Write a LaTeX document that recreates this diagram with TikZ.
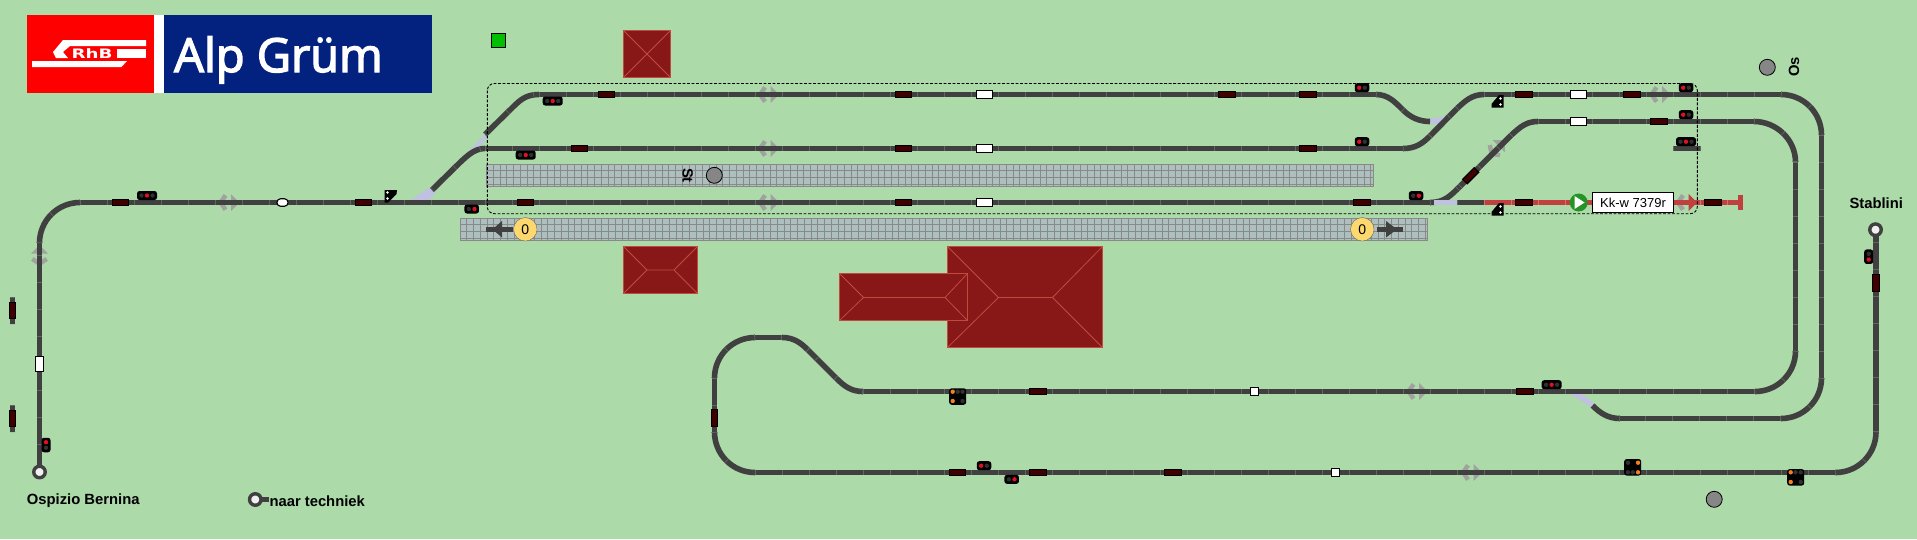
\documentclass[tikz,border=0pt]{standalone}
\usepackage{fontspec}
\setmainfont{Liberation Sans}
\newfontfamily\titlefont[FakeBold=3]{Open Sans}
\newfontfamily\logofont{DejaVu Sans}
\definecolor{meadow}{HTML}{ACDAA8}
\definecolor{rail}{HTML}{404040}
\definecolor{railtick}{HTML}{646464}
\definecolor{rout}{HTML}{C04040}
\definecolor{routtick}{HTML}{D87070}
\definecolor{switchc}{HTML}{C0C0E0}
\definecolor{blockc}{HTML}{400000}
\definecolor{roofc}{HTML}{881818}
\definecolor{roofl}{HTML}{C04A40}
\definecolor{chevc}{HTML}{A0A2A0}
\definecolor{tilec}{HTML}{AEBFBF}
\definecolor{tilel}{HTML}{888A88}
\definecolor{lampoff}{HTML}{303030}
\definecolor{lampred}{HTML}{E01020}
\definecolor{lampor}{HTML}{F08020}
\definecolor{navy}{HTML}{03217E}
\usetikzlibrary{arrows}
\tikzset{
  track/.style={draw=rail,line width=5.6pt,postaction={draw=railtick,line width=5.6pt,dash pattern=on .7pt off 26.3pt}},
  bend track/.style={draw=rail,line width=5.6pt,postaction={draw=railtick,line width=5.6pt,dash pattern=on .7pt off 31pt}},
  red track/.style={draw=rout,line width=5.6pt,postaction={draw=routtick,line width=5.6pt,dash pattern=on .7pt off 26.3pt}},
  block/.style={draw=black,fill=blockc,line width=1.1pt,inner sep=0pt,minimum width=16.5pt,minimum height=6.5pt},
  vblock/.style={block,minimum width=6.5pt,minimum height=16.5pt},
  clear/.style={draw=black,fill=white,line width=1.1pt,inner sep=0pt,minimum width=15.5pt,minimum height=7.5pt},
  sig/.style={fill=black,rounded corners=2.5pt,inner sep=0pt},
  sign/.style={font=\bfseries\fontsize{14.8}{16}\selectfont,inner sep=0pt},
  ends/.style={circle,draw=rail,fill=white!94!black,line width=3.4pt,inner sep=0pt,minimum size=11.5pt},
  dial/.style={circle,draw=black,fill=gray!95,line width=.8pt,inner sep=0pt,minimum size=16pt},
  count/.style={circle,draw=black!60,fill=yellow!50!orange!55,line width=.4pt,inner sep=0pt,minimum size=23.5pt,font=\fontsize{14}{14}\selectfont}
}
\newcommand{\chev}[4][chevc]{\begin{scope}[shift={(#2,#3)},rotate=#4]
  \draw[chevc,line width=4.4pt] (-3,-7.2) -- (-7.8,0) -- (-3,7.2);
  \fill[#1] (2.5,-8.5) -- (11,0) -- (2.5,8.5) -- cycle;
\end{scope}}
\newcommand{\platform}[4]{\fill[tilec] (#1,#2) rectangle (#3,#4);
  \pgfmathsetmacro{\nx}{int((#3-#1)/6.75)}\pgfmathsetmacro{\ny}{int((#4-#2)/6.75)}
  \foreach \i in {0,...,\nx} \draw[tilel,line width=.8pt] (#1+\i*6.75,#2) -- (#1+\i*6.75,#4);
  \foreach \i in {0,...,\ny} \draw[tilel,line width=.8pt] (#1,#2+\i*6.75) -- (#3,#2+\i*6.75);
  \draw[tilel,line width=1pt] (#1,#2) rectangle (#3,#4);}
\newcommand{\roof}[7]{\filldraw[fill=roofc,draw=roofl,line width=1pt] (#1,#2) rectangle (#3,#4);
  \draw[roofl,line width=.8pt] (#1,#2) -- (#5,#7) -- (#1,#4) (#3,#2) -- (#6,#7) -- (#3,#4) (#5,#7) -- (#6,#7);}
\newcommand{\lamp}[3]{\fill[#3] (#1,#2) circle (2.2);}
\begin{document}
\begin{tikzpicture}[x=1pt,y=-1pt,>=stealth']
  \fill[meadow] (0,0) rectangle (1917,539);
  % logo
  \fill[red] (27,15) rectangle (154,93);
  \fill[white] (154,15) rectangle (164,93);
  \fill[navy] (164,15) rectangle (432,93);
  \fill[white] (63,40) -- (146,40) -- (146,46) -- (70,46) -- (63,52) -- (68,58) -- (56,58) -- (53,52) -- cycle;
  \fill[white] (117,49) rectangle (146,58);
  \fill[white] (32,61) -- (127,61) -- (121.5,67) -- (32,67) -- cycle;
  \node[text=white,font=\logofont\bfseries\fontsize{13}{13}\selectfont,xscale=1.4,inner sep=0pt] (rhb) at (92,53.5) {RhB};
  \node[text=white,font=\titlefont\fontsize{47}{50}\selectfont,anchor=base west,inner sep=0pt] (title) at (174,72) {Alp Grüm};
  % buildings
  \roof{623.5}{30.5}{670.5}{77.5}{647}{647}{54}
  \roof{623.5}{246.5}{697.5}{293.5}{647}{674}{270}
  \roof{947.5}{246.5}{1102.5}{347.5}{998.5}{1052.5}{297.5}
  \roof{839.5}{273.5}{967.5}{320.5}{863.5}{945}{297.5}
  % platforms
  \platform{486.5}{164}{1373.5}{186.5}
  \platform{460}{218}{1427.5}{240.5}
  % direction marks
  \chev{228.5}{202.5}{0}
  \chev{39.5}{256}{90}
  \chev{768}{94.5}{0}
  \chev{768}{148.5}{0}
  \chev{768}{202.5}{0}
  \chev{1659.5}{94.5}{0}
  \chev{1497}{148}{45}
  \chev[rout]{1686}{202.5}{0}
  \chev{1416.5}{391.5}{0}
  \chev{1471}{472.5}{0}
  % switches
  \fill[switchc] (429,187.5) -- (435.5,192.5) -- (429,200) -- (411,200) -- cycle;
  \fill[switchc] (485,134.5) -- (487.5,137.5) -- (480,146) -- (467,153) -- cycle;
  \fill[switchc] (1430,119) -- (1446,116) -- (1453,109) -- (1456,113) -- (1443,124) -- (1430,124) -- cycle;
  \fill[switchc] (1570,394) -- (1582,394) -- (1595,404) -- (1591.5,407) -- cycle;
  % tracks
  \draw[track] (39.5,472) -- (39.5,243);
  \draw[bend track] (39.5,243) .. controls (39.5,220.6) and (57.6,202.5) .. (80,202.5);
  \draw[track] (80,202.5) -- (1430,202.5);
  \draw[bend track] (1430,202.5) .. controls (1445,202.5) and (1451,195) .. (1460,186.4);
  \draw[track] (1460,186.4) -- (1511,135.4);
  \draw[bend track] (1511,135.4) .. controls (1521,126) and (1527,121.5) .. (1538,121.5);
  \draw[track] (1538,121.5) -- (1754,121.5);
  \draw[bend track] (1754,121.5) .. controls (1776.4,121.5) and (1795.5,139.6) .. (1795.5,162);
  \draw[track] (1795.5,162) -- (1795.5,351);
  \draw[bend track] (1795.5,351) .. controls (1795.5,373.4) and (1777.4,391.5) .. (1755,391.5);
  \draw[track] (1755,391.5) -- (863,391.5);
  \draw[bend track] (863,391.5) .. controls (851,391.5) and (844,386) .. (836,378);
  \draw[track] (836,378) -- (808,350);
  \draw[bend track] (808,350) .. controls (800,342) and (793,337.5) .. (782,337.5);
  \draw[track] (782,337.5) -- (755,337.5);
  \draw[bend track] (755,337.5) .. controls (732.6,337.5) and (714.5,355.6) .. (714.5,378);
  \draw[track] (714.5,378) -- (714.5,432);
  \draw[bend track] (714.5,432) .. controls (714.5,454.4) and (732.6,472.5) .. (755,472.5);
  \draw[track] (755,472.5) -- (1835.5,472.5);
  \draw[bend track] (1835.5,472.5) .. controls (1857.9,472.5) and (1876,454.4) .. (1876,432);
  \draw[track] (1876,432) -- (1876,230);
  \draw[bend track] (432,190) -- (460,162.5) .. controls (468,155) and (475,148.5) .. (485,148.5);
  \draw[track] (485,148.5) -- (1403,148.5);
  \draw[bend track] (1403,148.5) .. controls (1415,148.5) and (1422,144) .. (1430,136);
  \draw[track] (1430,136) -- (1457,108.5);
  \draw[bend track] (1457,108.5) .. controls (1465,101) and (1472,94.5) .. (1484,94.5);
  \draw[track] (1484,94.5) -- (1781,94.5);
  \draw[bend track] (1781,94.5) .. controls (1803.4,94.5) and (1821.5,112.6) .. (1821.5,135);
  \draw[track] (1821.5,135) -- (1821.5,378);
  \draw[bend track] (1821.5,378) .. controls (1821.5,400.4) and (1803.4,418.5) .. (1781,418.5);
  \draw[track] (1781,418.5) -- (1620,418.5);
  \draw[bend track] (1620,418.5) .. controls (1608,418.5) and (1600,413) .. (1592.5,405.5);
  \draw[bend track] (485,134.5) -- (513,107) .. controls (521,99) and (527,94.5) .. (539,94.5);
  \draw[track] (539,94.5) -- (1376,94.5);
  \draw[bend track] (1376,94.5) .. controls (1388,94.5) and (1395,102) .. (1403,110) .. controls (1411,118) and (1420,121.5) .. (1430,121.5);
  \draw[switchc,line width=5.6pt] (1434,202.5) -- (1457,202.5);
  \draw[track] (1457,202.5) -- (1484,202.5);
  \draw[red track] (1484,202.5) -- (1740,202.5);
  \draw[rout,line width=5.6pt] (1740.5,195) -- (1740.5,210);
  \foreach \n/\y in {a/297,b/405} \draw[track] (12.5,\y) -- (12.5,\y+27);
  \draw[track] (1673,148.5) -- (1700.5,148.5);
  \draw[rail,line width=5.6pt] (255,499.5) -- (269,499.5);
  % blocks
  \foreach \n/\x/\y in {1/120.5/202.5,2/363.5/202.5,3/606.5/94.5,4/903.5/94.5,5/579.5/148.5,6/903.5/148.5,7/525.5/202.5,8/903.5/202.5,9/1227/94.5,10/1308/94.5,11/1308/148.5,12/1362/202.5,13/1524/94.5,14/1632/94.5,15/1659/121.5,16/1524/202.5,17/1713/202.5,18/1038/391.5,19/957.5/472.5,20/1038/472.5,21/1173/472.5,22/1525/391.5}
    \node[block] (b\n) at (\x,\y) {};
  \foreach \n/\x/\y in {1/12.5/310.5,2/12.5/418.5,3/714.5/418,4/1876/283}
    \node[vblock] (v\n) at (\x,\y) {};
  \node[block,rotate=45] (d1) at (1470.7,175.7) {};
  % clear marks
  \foreach \n/\x/\y in {1/984.5/94.5,2/984.5/148.5,3/984.5/202.5,4/1578.5/94.5,5/1578.5/121.5}
    \node[clear] (c\n) at (\x,\y) {};
  \node[clear,minimum width=7.5pt,minimum height=15.5pt] (c6) at (39.5,364) {};
  \node[clear,minimum width=7.5pt,minimum height=8pt] (c7) at (1254.5,391.5) {};
  \node[clear,minimum width=7.5pt,minimum height=8pt] (c8) at (1335.5,472.5) {};
  \node[clear,minimum width=11pt,rounded corners=3.5pt] (c9) at (282.5,202.5) {};
  % signals
  \foreach \n/\x/\y in {1/147/195.5,2/552.7/101,3/525.7/155,4/1686/141.7,5/1551.6/384.7}{
    \node[sig,minimum width=20pt,minimum height=9pt] (s\n) at (\x,\y) {};
    \lamp{\x-5.5}{\y}{lampoff}\lamp{\x}{\y}{lampred}\lamp{\x+5.5}{\y}{lampoff}}
  \foreach \n/\x/\y in {1/471.7/209,2/1416/195.7}{
    \node[sig,minimum width=14.5pt,minimum height=9pt] (t\n) at (\x,\y) {};
    \lamp{\x-2.8}{\y}{lampoff}\lamp{\x+2.8}{\y}{lampred}}
  \foreach \n/\x/\y in {3/1362/87.7,4/1362/141.7,5/1686/87.7,6/1686/114.7,7/984/465.7}{
    \node[sig,minimum width=14.5pt,minimum height=9pt] (t\n) at (\x,\y) {};
    \lamp{\x-2.8}{\y}{lampred}\lamp{\x+2.8}{\y}{lampoff}}
  \node[sig,minimum width=14.5pt,minimum height=9pt] (t8) at (1011.7,479.3) {};
  \lamp{1008.9}{479.3}{lampoff}\lamp{1014.5}{479.3}{lampred}
  \node[sig,minimum width=9pt,minimum height=14.5pt] (u1) at (46,445) {};
  \lamp{46}{442.2}{lampred}\lamp{46}{447.8}{lampoff}
  \node[sig,minimum width=9pt,minimum height=14.5pt] (u2) at (1868.7,256.7) {};
  \lamp{1868.7}{253.9}{lampoff}\lamp{1868.7}{259.5}{lampred}
  \node[sig,minimum width=17pt,minimum height=16.5pt] (g1) at (957.7,396.5) {};
  \lamp{952.7}{391.7}{lampor}\lamp{957.7}{391.7}{lampoff}\lamp{962.5}{391.7}{lampoff}
  \lamp{952.7}{401}{lampor}\lamp{962.5}{401}{lampoff}
  \node[sig,minimum width=17pt,minimum height=16.5pt] (g2) at (1632.7,467.3) {};
  \lamp{1628}{462.7}{lampoff}\lamp{1638}{462.7}{lampor}
  \lamp{1628}{472.3}{lampoff}\lamp{1632.8}{472.3}{lampoff}\lamp{1638}{472.3}{lampor}
  \node[sig,minimum width=17pt,minimum height=16.5pt] (g3) at (1795.7,477.3) {};
  \lamp{1790.7}{472.3}{lampor}\lamp{1795.5}{472.3}{lampoff}\lamp{1800.7}{472.3}{lampoff}
  \lamp{1790.7}{482}{lampor}\lamp{1800.7}{482}{lampoff}
  % arm signals
  \fill[black] (384.5,190) -- (397,190) -- (396.5,194) -- (388,202.5) -- (384.5,202.5) -- cycle;
  \fill[white] (387.5,192.5) circle (1.3) (387.5,198.5) circle (1.3);
  \foreach \y in {101,209}{
    \fill[black] (1503.5,\y-6) -- (1503.5,\y+6.5) -- (1491.5,\y+6.5) -- (1491.5,\y+3) -- (1499,\y-6) -- cycle;
    \fill[white] (1500.5,\y-2.5) circle (1.3) (1500.5,\y+3.5) circle (1.3);}
  % section outline
  \draw[black,line width=.9pt,dash pattern=on 2.8pt off 1.7pt,rounded corners=7pt] (487.3,83.5) rectangle (1697.3,213.7);
  % route
  \node[circle,fill=green!50!black!85!white,inner sep=0pt,minimum size=18pt] (go) at (1578.7,202.5) {};
  \fill[white] (1574.5,196) -- (1584.5,202.5) -- (1574.5,209) -- cycle;
  \node[draw=black,fill=white,line width=1pt,inner sep=0pt,minimum width=81pt,minimum height=20pt,font=\fontsize{13}{13}\selectfont] (train) at (1633,202.5) {Kk-w 7379r};
  % counters
  \foreach \n/\x in {1/525.3,2/1362.3} \node[count] (n\n) at (\x,229.3) {0};
  \draw[rail,line width=5.6pt] (486,229.3) -- (512.5,229.3);
  \fill[rail] (502,221) -- (492.5,229.3) -- (502,237.5) -- cycle;
  \draw[rail,line width=5.6pt] (1376.7,229.3) -- (1403.3,229.3);
  \fill[rail] (1386,221) -- (1397,229.3) -- (1386,237.5) -- cycle;
  % others
  \node[draw=black,fill=green!75!black,line width=1pt,inner sep=0pt,minimum size=13.5pt] (led) at (498.5,40.5) {};
  \node[dial] (st) at (714.3,175.3) {};
  \node[dial] (os) at (1767.3,67.3) {};
  \node[dial] (ot) at (1714.2,499.3) {};
  \node[sign,rotate=-90] (stl) at (687.7,175.5) {St};
  \node[sign,rotate=90] (osl) at (1794,67) {Os};
  \node[ends] (bern) at (39.5,472) {};
  \node[ends] (tech) at (255.3,499.5) {};
  \node[ends] (stab) at (1875.5,229.7) {};
  \node[sign,anchor=west] (bernl) at (26.7,501) {Ospizio Bernina};
  \node[sign,anchor=west] (techl) at (269.3,501) {naar techniek};
  \node[sign,anchor=west] (stabl) at (1849.3,203) {Stablini};
\end{tikzpicture}
\end{document}
